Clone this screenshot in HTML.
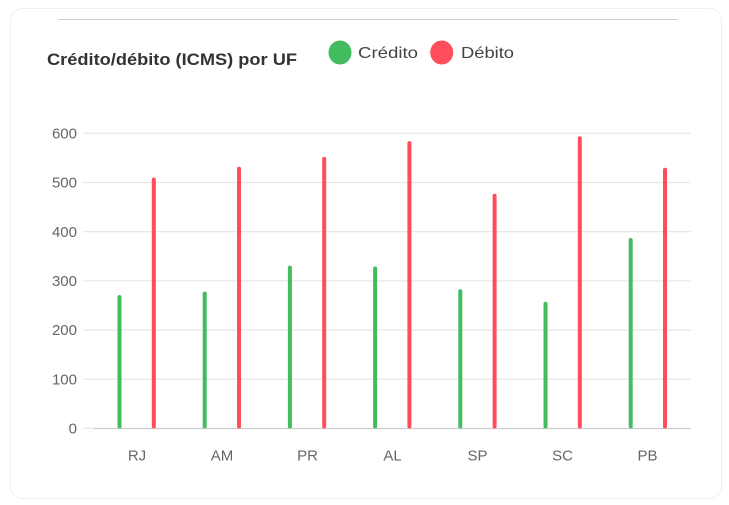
<!DOCTYPE html>
<html>
<head>
<meta charset="utf-8">
<style>
html,body{margin:0;padding:0;background:#fff;}
svg{display:block;}
text{font-family:"Liberation Sans",sans-serif;}
</style>
</head>
<body>
<svg width="729" height="505" viewBox="0 0 729 505" xmlns="http://www.w3.org/2000/svg">
  <rect x="0" y="0" width="729" height="505" fill="#fff"/>
  <rect x="10.5" y="8.5" width="711" height="490" rx="12" ry="12" fill="#fff" stroke="#efefef" stroke-width="1"/>
  <line x1="58" y1="19.5" x2="678" y2="19.5" stroke="#cfcfcf" stroke-width="1"/>

  <text x="47" y="65" font-size="16.5" font-weight="bold" fill="#333" textLength="250" lengthAdjust="spacingAndGlyphs">Crédito/débito (ICMS) por UF</text>

  <ellipse cx="340" cy="52.5" rx="11.5" ry="12" fill="#43bb5f"/>
  <text x="358" y="58" font-size="16" fill="#444" textLength="60" lengthAdjust="spacingAndGlyphs">Crédito</text>
  <ellipse cx="441.7" cy="52.5" rx="11.5" ry="12" fill="#ff4d5c"/>
  <text x="461" y="58" font-size="16" fill="#444" textLength="53" lengthAdjust="spacingAndGlyphs">Débito</text>

  <!-- gridlines -->
  <g stroke="#e6e6e6" stroke-width="1.2">
    <line x1="83" y1="133.3" x2="690.5" y2="133.3"/>
    <line x1="83" y1="182.5" x2="690.5" y2="182.5"/>
    <line x1="83" y1="231.7" x2="690.5" y2="231.7"/>
    <line x1="83" y1="280.8" x2="690.5" y2="280.8"/>
    <line x1="83" y1="330" x2="690.5" y2="330"/>
    <line x1="83" y1="379.2" x2="690.5" y2="379.2"/>
    <line x1="83" y1="428.3" x2="94" y2="428.3"/>
  </g>
  <line x1="94" y1="428.5" x2="690.5" y2="428.5" stroke="#cccccc" stroke-width="1.2"/>

  <g font-size="15" fill="#666" text-anchor="end">
    <text x="77" y="138.5">600</text>
    <text x="77" y="187.7">500</text>
    <text x="77" y="236.9">400</text>
    <text x="77" y="286">300</text>
    <text x="77" y="335.2">200</text>
    <text x="77" y="384.4">100</text>
    <text x="77" y="433.5">0</text>
  </g>

  <g font-size="15" fill="#666" text-anchor="middle">
    <text x="137" y="460.5">RJ</text>
    <text x="222" y="460.5">AM</text>
    <text x="307.5" y="460.5">PR</text>
    <text x="392.5" y="460.5">AL</text>
    <text x="477.5" y="460.5">SP</text>
    <text x="562.5" y="460.5">SC</text>
    <text x="647.5" y="460.5">PB</text>
  </g>

  <!-- green bars -->
  <g fill="#43bb5f">
    <rect x="117.5" y="295.1" width="4" height="133.4" rx="2"/>
    <rect x="202.7" y="291.6" width="4" height="136.9" rx="2"/>
    <rect x="287.9" y="265.6" width="4" height="162.9" rx="2"/>
    <rect x="373.1" y="266.5" width="4" height="162" rx="2"/>
    <rect x="458.3" y="289.2" width="4" height="139.3" rx="2"/>
    <rect x="543.5" y="301.9" width="4" height="126.6" rx="2"/>
    <rect x="628.7" y="238.0" width="4" height="190.5" rx="2"/>
  </g>
  <!-- red bars -->
  <g fill="#ff4d5c">
    <rect x="151.8" y="177.5" width="4" height="251" rx="2"/>
    <rect x="237.0" y="166.7" width="4" height="261.8" rx="2"/>
    <rect x="322.2" y="156.9" width="4" height="271.6" rx="2"/>
    <rect x="407.4" y="141.1" width="4" height="287.4" rx="2"/>
    <rect x="492.6" y="193.8" width="4" height="234.7" rx="2"/>
    <rect x="577.8" y="136.2" width="4" height="292.3" rx="2"/>
    <rect x="663.0" y="167.7" width="4" height="260.8" rx="2"/>
  </g>
</svg>
</body>
</html>
